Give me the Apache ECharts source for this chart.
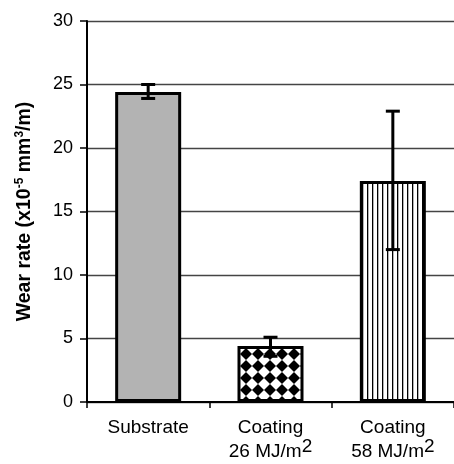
<!DOCTYPE html>
<html><head><meta charset="utf-8">
<script src="https://cdn.jsdelivr.net/npm/echarts@6/dist/echarts.min.js"></script>
<style>html,body{margin:0;padding:0;background:#fff}#c{width:454px;height:464px}</style>
</head><body><div id="c"></div>
<script>
var categories = ['Substrate', 'Coating\n26 MJ/m{s|2}', 'Coating\n58 MJ/m{s|2}'];
var values = [24.4, 4.4, 17.4];
var errLow = [23.9, 3.6, 12.0];
var errHigh = [25.0, 5.1, 22.9];
var yTicks = [0, 5, 10, 15, 20, 25, 30];

function checkerPattern() {
  var c = document.createElement('canvas'); c.width = 12; c.height = 12;
  var g = c.getContext('2d');
  g.fillStyle = '#fff'; g.fillRect(0, 0, 12, 12);
  g.fillStyle = '#000';
  g.beginPath(); g.moveTo(6, 0); g.lineTo(12, 6); g.lineTo(6, 12); g.lineTo(0, 6); g.closePath(); g.fill();
  return c;
}
function stripePattern() {
  var c = document.createElement('canvas'); c.width = 5; c.height = 4;
  var g = c.getContext('2d');
  g.fillStyle = '#fff'; g.fillRect(0, 0, 5, 4);
  g.fillStyle = '#000'; g.fillRect(2, 0, 1.3, 4);
  return c;
}
var fills = ['#b3b3b3', {image: checkerPattern(), repeat: 'repeat'}, {image: stripePattern(), repeat: 'repeat'}];

var FONT = 'Liberation Sans';
var chart = echarts.init(document.getElementById('c'));
chart.setOption({
  animation: false,
  grid: {left: 87, right: -8, top: 21, bottom: 59, containLabel: false},
  xAxis: {
    type: 'category', data: categories,
    axisLine: {lineStyle: {color: '#000', width: 2}},
    axisTick: {show: true, alignWithLabel: false, length: 6, lineStyle: {color: '#000', width: 1.5}},
    axisLabel: {color: '#000', fontSize: 19, fontFamily: FONT, lineHeight: 24, margin: 14, interval: 0,
      rich: {s: {fontSize: 19, padding: [0, 0, 10, 0], fontFamily: FONT}}}
  },
  yAxis: {
    type: 'value', min: 0, max: 30, interval: 5,
    name: 'Wear rate (x10{s|-5} mm{s|3}/m)', nameLocation: 'middle', nameGap: 51,
    nameTextStyle: {color: '#000', fontSize: 19.5, fontWeight: 'bold', fontFamily: FONT,
      rich: {s: {fontSize: 12, fontWeight: 'bold', padding: [0, 0, 10, 0], fontFamily: FONT}}},
    axisLine: {show: true, lineStyle: {color: '#000', width: 2}},
    axisTick: {show: true, length: 7, lineStyle: {color: '#000', width: 1.5}},
    axisLabel: {color: '#000', fontSize: 18, fontFamily: FONT, margin: 14,
      formatter: function (v) { return yTicks.indexOf(v) >= 0 ? String(v) : ''; }},
    splitLine: {show: true, lineStyle: {color: '#444', width: 1.3}}
  },
  series: [{
    type: 'bar', barWidth: 66,
    data: values.map(function (v, i) {
      return {value: v, itemStyle: {color: fills[i], borderColor: '#000', borderWidth: 3}};
    }),
    z: 2
  }, {
    type: 'custom', z: 3,
    data: values.map(function (v, i) { return [i, errLow[i], errHigh[i]]; }),
    renderItem: function (params, api) {
      var lo = api.coord([api.value(0), api.value(1)]);
      var hi = api.coord([api.value(0), api.value(2)]);
      var w = 7;
      var st = {stroke: '#000', lineWidth: 3};
      return {type: 'group', children: [
        {type: 'line', shape: {x1: lo[0], y1: lo[1], x2: hi[0], y2: hi[1]}, style: st},
        {type: 'line', shape: {x1: lo[0] - w, y1: lo[1], x2: lo[0] + w, y2: lo[1]}, style: st},
        {type: 'line', shape: {x1: hi[0] - w, y1: hi[1], x2: hi[0] + w, y2: hi[1]}, style: st}
      ]};
    }
  }]
});
</script></body></html>
